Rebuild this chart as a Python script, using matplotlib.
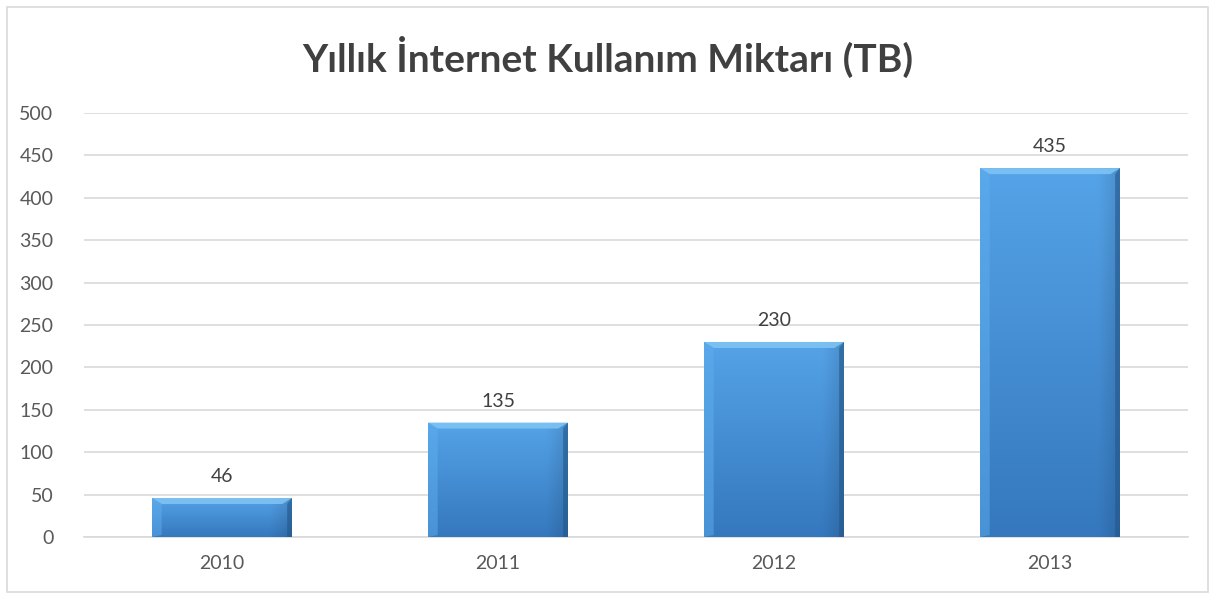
import matplotlib
matplotlib.use("Agg")
import matplotlib.pyplot as plt
import numpy as np
from matplotlib.patches import Rectangle, Polygon

years = ["2010", "2011", "2012", "2013"]
values = [46, 135, 230, 435]
yticks = [0, 50, 100, 150, 200, 250, 300, 350, 400, 450, 500]
title = "Yıllık İnternet Kullanım Miktarı (TB)"

plt.rcParams['font.family'] = ['Lato', 'DejaVu Sans']

fig = plt.figure(figsize=(12.16, 5.99), dpi=100)
fig.patches.append(Rectangle((7/1216, 7/599), 1201/1216, 585/599, transform=fig.transFigure,
                             fill=False, edgecolor="#d9d9d9", linewidth=1.2))

ax = fig.add_axes([84/1216, 1 - 537/599, (1188-84)/1216, (537-113)/599])
x = np.arange(len(years))
width = 0.507
bars = ax.bar(x, values, width=width, color="#4a90d9", edgecolor="none", zorder=3)

# 2D gradient: lighter top-left, darker bottom-right
nx, ny = 64, 64
gx = np.linspace(0, 1, nx)[None, :]
gy = np.linspace(0, 1, ny)[:, None]  # 0 top, 1 bottom
top = np.array([0x55, 0xa3, 0xe8]) / 255
bot = np.array([0x35, 0x78, 0xbd]) / 255
base = top[None, None, :] * (1 - gy[..., None]) + bot[None, None, :] * gy[..., None]
shade = 1 - 0.12 * np.clip((gx - 0.85) / 0.15, 0, 1)
img = np.clip(base * shade[..., None], 0, 1)

ypx = 500 / 424
for b in bars:
    bx, by, bw, bh = b.get_x(), b.get_y(), b.get_width(), b.get_height()
    im = ax.imshow(img, aspect="auto", extent=(bx, bx + bw, by, by + bh),
                   zorder=4, interpolation="bilinear", origin="upper")
    im.set_clip_path(b)
    bev = 6 * ypx
    dxb = 0.035
    ax.add_patch(Polygon([(bx, by + bh), (bx + bw, by + bh), (bx + bw - dxb, by + bh - bev),
                          (bx + dxb, by + bh - bev)], closed=True, facecolor="#7fc3f3",
                         edgecolor="none", zorder=5, alpha=0.9))
    ax.add_patch(Polygon([(bx, by + bh), (bx + dxb, by + bh - bev), (bx + dxb, by + 2 * ypx),
                          (bx, by)], closed=True, facecolor="#5eaeee", edgecolor="none",
                         zorder=5, alpha=0.5))
    ax.add_patch(Polygon([(bx + bw, by + bh), (bx + bw - dxb * 0.5, by + bh - bev),
                          (bx + bw - dxb * 0.5, by), (bx + bw, by)], closed=True,
                         facecolor="#23578b", edgecolor="none", zorder=5, alpha=0.6))
    ax.text(bx + bw / 2, bh + 15, str(int(bh)), ha="center", va="bottom", fontsize=14,
            color="#404040", zorder=6)

ax.set_xlim(-0.5, len(years) - 0.5)
ax.set_ylim(0, 500)
ax.set_yticks(yticks)
ax.set_xticks(x)
ax.set_xticklabels(years)
ax.tick_params(axis="both", length=0, labelsize=14, labelcolor="#595959")
ax.tick_params(axis="y", pad=22)
ax.tick_params(axis="x", pad=13)
ax.yaxis.grid(True, color="#d9d9d9", linewidth=1.2, zorder=0)
ax.set_axisbelow(True)
for s in ["top", "right", "left"]:
    ax.spines[s].set_visible(False)
ax.spines["bottom"].set_color("#d9d9d9")
ax.spines["bottom"].set_linewidth(1.2)

fig.text(0.5, 1 - 57/599, title, ha="center", va="center", fontsize=28, fontweight="bold",
         color="#404040")

fig.savefig("out.png", dpi=100)
